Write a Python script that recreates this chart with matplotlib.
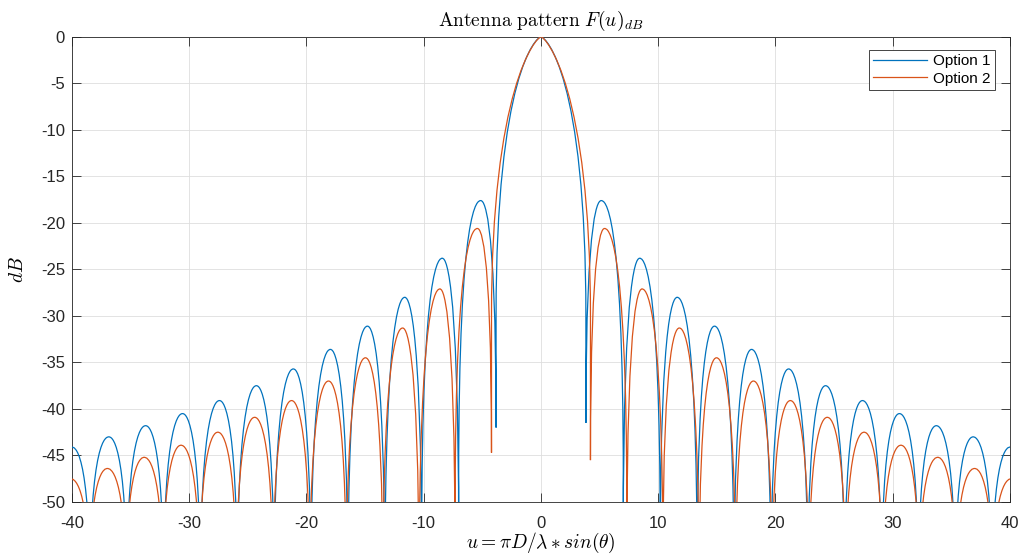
import numpy as np
import matplotlib
matplotlib.use("Agg")
import matplotlib.pyplot as plt
from matplotlib.path import Path
from matplotlib.patches import PathPatch
from matplotlib.lines import Line2D

# values, right half only (the pattern is symmetric about u = 0)
# Option 1
opt1_nulls = [3.83, 7.02, 10.17, 13.32, 16.47, 19.62, 22.76, 25.90, 29.05, 32.19, 35.33, 38.47, 41.62]
opt1_peak_u = [5.14, 8.42, 11.62, 14.80, 17.96, 21.12, 24.27, 27.42, 30.57, 33.72, 36.86, 40.01]
opt1_peak_db = [-17.6, -23.8, -28.0, -31.1, -33.6, -35.7, -37.5, -39.1, -40.5, -41.8, -43.0, -44.1]
opt1_first_dip = [-42.0, -41.5]  # left / right, the first null is not sampled all the way down

# Option 2
opt2_nulls = [4.22, 7.32, 10.40, 13.48, 16.60, 19.72, 22.85, 25.98, 29.12, 32.25, 35.39, 38.52, 41.66]
opt2_peak_u = [5.42, 8.62, 11.80, 14.97, 18.12, 21.27, 24.42, 27.56, 30.70, 33.84, 36.98, 40.12]
opt2_peak_db = [-20.6, -27.1, -31.3, -34.5, -37.0, -39.1, -40.9, -42.5, -43.9, -45.2, -46.4, -47.5]
opt2_first_dip = [-44.7, -45.5]

labels = ["Option 1", "Option 2"]
colors = ["#0072BD", "#D95319"]

# lobe drawing (shape of the bezier arches)
SIDE_K = 0.872
SIDE_DROP = 30.0
MAIN_K = 0.1
MAIN_DROP = 30.0
FLOOR = -60.0
main_q = [-4.0, -5.5]  # main lobe control height per option


def pattern_path(nulls, peak_u, peak_db, first_dip, mq):
    nulls = np.asarray(nulls)
    pu = np.asarray(peak_u)
    pdb = np.asarray(peak_db)

    xs = np.concatenate([-nulls[::-1], nulls])
    dips = np.full(len(xs), FLOOR)
    dips[len(nulls) - 1] = first_dip[0]
    dips[len(nulls)] = first_dip[1]
    lobe_u = np.concatenate([-pu[::-1], [0.0], pu])
    lobe_db = np.concatenate([pdb[::-1], [0.0], pdb])

    verts = [(xs[0], dips[0])]
    codes = [Path.MOVETO]
    for i, (c, p) in enumerate(zip(lobe_u, lobe_db)):
        a, b = xs[i], xs[i + 1]
        ya, yb = dips[i], dips[i + 1]
        if i == len(nulls) - 1:
            # main lobe
            y0 = max(ya, -MAIN_DROP)
            y1 = max(yb, -MAIN_DROP)
            verts += [(a, y0),
                      (a, mq), (c + MAIN_K * (a - c), p), (c, p),
                      (c + MAIN_K * (b - c), p), (b, mq), (b, y1),
                      (b, yb)]
        else:
            y0 = max(ya, p - SIDE_DROP)
            y1 = max(yb, p - SIDE_DROP)
            verts += [(a, y0),
                      (a, p), (a + SIDE_K * (c - a), p), (c, p),
                      (c + (1 - SIDE_K) * (b - c), p), (b, p), (b, y1),
                      (b, yb)]
        codes += [Path.LINETO] + [Path.CURVE4] * 6 + [Path.LINETO]
    return Path(verts, codes)


def main():
    plt.rcParams["font.family"] = ["Liberation Sans", "DejaVu Sans"]
    plt.rcParams["mathtext.fontset"] = "cm"
    plt.rcParams["axes.unicode_minus"] = False

    fig = plt.figure(figsize=(10.21, 5.59), dpi=100)
    ax = fig.add_axes([0.0705, 0.102, 0.9187, 0.832])

    series = [
        (opt1_nulls, opt1_peak_u, opt1_peak_db, opt1_first_dip),
        (opt2_nulls, opt2_peak_u, opt2_peak_db, opt2_first_dip),
    ]
    handles = []
    for (nulls, pu, pdb, dip), mq, lab, col in zip(series, main_q, labels, colors):
        patch = PathPatch(pattern_path(nulls, pu, pdb, dip, mq), fill=False,
                          edgecolor=col, lw=0.9, zorder=3)
        ax.add_patch(patch)
        handles.append(Line2D([], [], color=col, lw=0.9, label=lab))

    ax.set_xlim(-40, 40)
    ax.set_ylim(-50, 0)
    ax.set_xticks(np.arange(-40, 41, 10))
    ax.set_yticks(np.arange(-50, 1, 5))
    ax.grid(True, color="#DEDEDE", lw=0.6)
    ax.set_axisbelow(True)
    for s in ax.spines.values():
        s.set_color("#262626")
        s.set_linewidth(0.6)
    ax.tick_params(direction="in", length=6.5, width=0.6, colors="#262626",
                   labelsize=12, top=True, right=True)
    ax.tick_params(axis="x", pad=10)
    ax.tick_params(axis="y", pad=5)

    ax.set_title(r"$\mathrm{Antenna\ pattern}\ F(u)_{dB}$", fontsize=14, pad=8)
    ax.set_xlabel(r"$u = \pi D/\lambda \ast sin(\theta)$", fontsize=14, labelpad=0)
    ax.set_ylabel(r"$dB$", fontsize=14, labelpad=10)

    leg = ax.legend(handles=handles, loc="upper right", bbox_to_anchor=(0.984, 0.972),
                    borderaxespad=0, fontsize=11, handlelength=3.5, handletextpad=0.4,
                    labelspacing=0.2, borderpad=0.3, fancybox=False, framealpha=1)
    leg.get_frame().set_edgecolor("#262626")
    leg.get_frame().set_linewidth(0.6)

    fig.savefig("out.png", dpi=100)


if __name__ == "__main__":
    main()
